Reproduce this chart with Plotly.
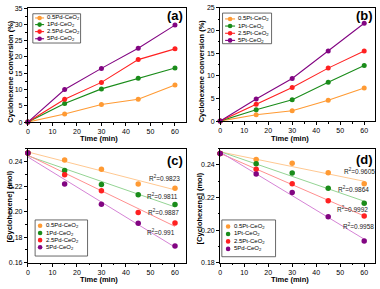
import numpy as np
import plotly.graph_objects as go

# ---------------- data ----------------
time = [0, 15, 30, 45, 60]

pd_labels = ["0.5Pd-CeO<sub>2</sub>", "1Pd-CeO<sub>2</sub>", "2.5Pd-CeO<sub>2</sub>", "5Pd-CeO<sub>2</sub>"]
pt_labels = ["0.5Pt-CeO<sub>2</sub>", "1Pt-CeO<sub>2</sub>", "2.5Pt-CeO<sub>2</sub>", "5Pt-CeO<sub>2</sub>"]
pt_labels_d = ["0.5Pt-CeO<sub>2</sub>", "1Pt-CeO<sub>2</sub>", "2.5Pt-CeO<sub>2</sub>", "5Pd-CeO<sub>2</sub>"]

# (a) conversion, Pd
conv_05Pd = [0, 2.5, 5.4, 7.0, 11.4]
conv_1Pd = [0, 5.7, 10.2, 13.5, 16.6]
conv_25Pd = [0, 7.0, 12.2, 19.2, 22.5]
conv_5Pd = [0, 10.0, 16.5, 22.7, 29.8]

# (b) conversion, Pt
conv_05Pt = [0, 1.4, 2.3, 4.6, 7.3]
conv_1Pt = [0, 2.5, 4.7, 8.6, 12.3]
conv_25Pt = [0, 3.7, 7.4, 11.7, 15.5]
conv_5Pt = [0, 4.9, 9.4, 15.5, 21.6]

# (c) concentration, Pd
conc_05Pd = [0.2467, 0.2410, 0.2338, 0.2221, 0.2187]
conc_1Pd = [0.2467, 0.2328, 0.2218, 0.2136, 0.2059]
conc_25Pd = [0.2467, 0.2295, 0.2167, 0.1995, 0.1913]
conc_5Pd = [0.2467, 0.2221, 0.2062, 0.1910, 0.1731]
r2_c = ["0.9823", "0.9811", "0.9887", "0.991"]

# (d) concentration, Pt
conc_05Pt = [0.2470, 0.2434, 0.2410, 0.2352, 0.2285]
conc_1Pt = [0.2470, 0.2408, 0.2350, 0.2257, 0.2164]
conc_25Pt = [0.2470, 0.2374, 0.2285, 0.2180, 0.2086]
conc_5Pt = [0.2470, 0.2344, 0.2231, 0.2081, 0.1932]
r2_d = ["0.9605", "0.9864", "0.9992", "0.9958"]

# ---------------- style ----------------
colors = ["#FF9A33", "#1A8C1A", "#FF2121", "#820582"]
fit_colors = ["#FFC891", "#94D494", "#FF8F8F", "#D583D5"]
FONT = "Liberation Sans, Arial, sans-serif"
W, H = 380, 289


def X(px):
    return px / W


def Y(py):
    return 1 - py / H


fig = go.Figure()

# panel pixel boxes: (left, right, top, bottom)
boxes = {
    1: (26, 185, 4.3, 121),
    2: (219.3, 375, 4.0, 120),
    3: (26, 185, 148.3, 265),
    4: (219.3, 375, 148.3, 265),
}


def axname(i, kind):
    return kind if i == 1 else f"{kind}{i}"


# (a), (b) conversion lines
for i, series in ((1, [conv_05Pd, conv_1Pd, conv_25Pd, conv_5Pd]),
                  (2, [conv_05Pt, conv_1Pt, conv_25Pt, conv_5Pt])):
    for k, ys in enumerate(series):
        fig.add_trace(go.Scatter(
            x=time, y=ys, mode="lines+markers",
            line=dict(color=colors[k], width=1.1),
            marker=dict(color=colors[k], size=5),
            cliponaxis=False, showlegend=False,
            xaxis=axname(i, "x"), yaxis=axname(i, "y")))

# (c), (d) concentration + linear fits
for i, series in ((3, [conc_05Pd, conc_1Pd, conc_25Pd, conc_5Pd]),
                  (4, [conc_05Pt, conc_1Pt, conc_25Pt, conc_5Pt])):
    for k, ys in enumerate(series):
        slope, icpt = np.polyfit(time, ys, 1)
        xf = [time[0], time[-1]]
        yf = [icpt + slope * t for t in xf]
        fig.add_trace(go.Scatter(
            x=xf, y=yf, mode="lines",
            line=dict(color=fit_colors[k], width=1),
            showlegend=False, hoverinfo="skip",
            xaxis=axname(i, "x"), yaxis=axname(i, "y")))
    for k, ys in enumerate(series):
        fig.add_trace(go.Scatter(
            x=time, y=ys, mode="markers",
            marker=dict(color=colors[k], size=5.5),
            cliponaxis=False, showlegend=False,
            xaxis=axname(i, "x"), yaxis=axname(i, "y")))

# axes
yranges = {1: ([0, 35], 5), 2: ([0, 25], 5), 3: ([0.16, 0.25], 0.02), 4: ([0.18, 0.25], 0.02)}
ytick0 = {1: 0, 2: 0, 3: 0.16, 4: 0.18}
layout = {}
for i, (l, r, t, b) in boxes.items():
    common = dict(showline=True, linecolor="black", linewidth=1, mirror=True,
                  ticks="outside", ticklen=3, tickwidth=1, tickcolor="black",
                  showgrid=False, zeroline=False,
                  tickfont=dict(family=FONT, size=7, color="black"))
    xa = dict(common, domain=[X(l), X(r)], range=[0, 64.5], dtick=10, tick0=0,
              anchor=axname(i, "y"),
              minor=dict(ticks="outside", ticklen=1.5, dtick=5, tick0=0, tickcolor="black"))
    rng, dt = yranges[i]
    ya = dict(common, domain=[Y(b), Y(t)], range=rng, dtick=dt, tick0=ytick0[i],
              anchor=axname(i, "x"),
              minor=dict(ticks="outside", ticklen=1.5, dtick=dt / 2, tick0=ytick0[i], tickcolor="black"))
    if i >= 3:
        ya["tickformat"] = ".2f"
    layout["xaxis" if i == 1 else f"xaxis{i}"] = xa
    layout["yaxis" if i == 1 else f"yaxis{i}"] = ya

annotations = []
shapes = []


def text(px, py, s, size=7, bold=False, angle=0, xanchor="center", yanchor="middle"):
    annotations.append(dict(
        x=X(px), y=Y(py), xref="paper", yref="paper", text=f"<b>{s}</b>" if bold else s,
        showarrow=False, textangle=angle, xanchor=xanchor, yanchor=yanchor,
        font=dict(family=FONT, size=size, color="black")))


# panel letters
text(173.5, 12, "(a)", size=13, bold=True)
text(364.5, 12, "(b)", size=13, bold=True)
text(173.5, 160.5, "(c)", size=13, bold=True)
text(364.5, 159.5, "(d)", size=13, bold=True)

# axis titles
text(8.5, 69, "Cyclohexene conversion (%)", size=7.5, bold=True, angle=-90)
text(200, 68, "Cyclohexene conversion (%)", size=7.5, bold=True, angle=-90)
text(8.5, 207, "[Cyclohexene] (mol)", size=7.5, bold=True, angle=-90)
text(198.5, 209, "[Cyclohexene] (mol)", size=7.5, bold=True, angle=-90)
text(97.5, 138, "Time (min)", size=7.5, bold=True)
text(290, 138, "Time (min)", size=7.5, bold=True)
text(97.5, 282, "Time (min)", size=7.5, bold=True)
text(290, 282, "Time (min)", size=7.5, bold=True)

# R^2 labels (data coordinates)
r2_pos_c = [(55.9, 0.2271), (55.1, 0.2130), (55.5, 0.2001), (54.3, 0.1844)]
r2_pos_d = [(58.0, 0.2360), (55.5, 0.2252), (55.1, 0.2132), (57.5, 0.2022)]
for (xv, yv), r in zip(r2_pos_c, r2_c):
    annotations.append(dict(x=xv, y=yv, xref="x3", yref="y3", text=f"R<sup>2</sup>=" + r,
                            showarrow=False, font=dict(family=FONT, size=6.5, color="#222")))
for (xv, yv), r in zip(r2_pos_d, r2_d):
    annotations.append(dict(x=xv, y=yv, xref="x4", yref="y4", text=f"R<sup>2</sup>=" + r,
                            showarrow=False, font=dict(family=FONT, size=6.5, color="#222")))


# manual legends
def legend(box, ys, glyph_x0, glyph_x1, marker_x, text_x, labels, with_line):
    l, r, t, b = box
    shapes.append(dict(type="rect", xref="paper", yref="paper",
                       x0=X(l), x1=X(r), y0=Y(b), y1=Y(t),
                       line=dict(color="#444", width=0.8), fillcolor="white", layer="above"))
    for k, (yy, lab) in enumerate(zip(ys, labels)):
        if with_line:
            shapes.append(dict(type="line", xref="paper", yref="paper",
                               x0=X(glyph_x0), x1=X(glyph_x1), y0=Y(yy), y1=Y(yy),
                               line=dict(color=colors[k], width=1.1), layer="above"))
        shapes.append(dict(type="circle", xref="paper", yref="paper",
                           xsizemode="pixel", ysizemode="pixel",
                           xanchor=X(marker_x), yanchor=Y(yy),
                           x0=-2.3, x1=2.3, y0=-2.3, y1=2.3,
                           fillcolor=colors[k], line=dict(width=0), layer="above"))
        text(text_x, yy, lab, size=6, xanchor="left")


legend((31, 79, 10, 40), [14.3, 21.1, 28.3, 35.6], 33.3, 42.3, 37.8, 43, pd_labels, True)
legend((221.7, 271, 9.3, 40.7), [15.3, 22.6, 30, 37.3], 224.3, 234.3, 229.3, 235.5, pt_labels, True)
legend((33.3, 86, 221.3, 258.3), [227.3, 234.7, 242, 249.3], 0, 0, 38.3, 42.7, pd_labels, False)
legend((221, 275, 221.3, 259), [228, 235.7, 243.3, 251], 0, 0, 227.3, 231.7, pt_labels_d, False)

fig.update_layout(
    **layout,
    annotations=annotations, shapes=shapes,
    width=W, height=H, margin=dict(l=0, r=0, t=0, b=0),
    paper_bgcolor="white", plot_bgcolor="white", showlegend=False,
    font=dict(family=FONT, color="black"))

fig.write_html("out.html",
               config={"displayModeBar": False},
               post_script="document.body.style.margin='0';document.body.style.overflow='hidden';")
